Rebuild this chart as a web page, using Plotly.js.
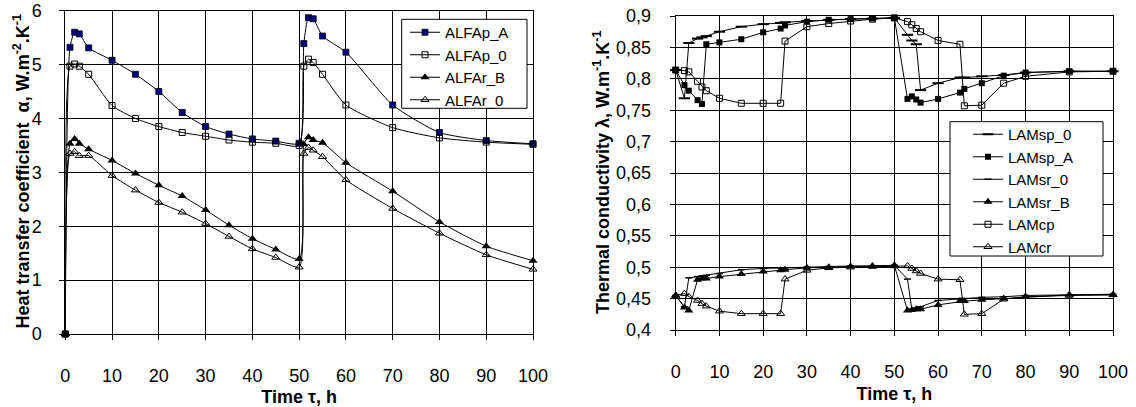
<!DOCTYPE html>
<html>
<head>
<meta charset="utf-8">
<script src="https://cdn.plot.ly/plotly-3.0.1.min.js"></script>
<style>html,body{margin:0;padding:0;background:#fff;}#chart{width:1136px;height:407px;}</style>
</head>
<body>
<div id="chart"></div>
<script>
// ---- Left chart: heat transfer coefficient ----
const tL = [0,1,2,3,5,10,15,20,25,30,35,40,45,50,51,52,53,55,60,70,80,90,100];
const ALFAp_A = [0,5.32,5.60,5.57,5.31,5.08,4.82,4.50,4.11,3.85,3.71,3.62,3.58,3.54,5.39,5.87,5.85,5.53,5.23,4.25,3.74,3.59,3.53];
const ALFAp_0 = [0,4.97,5.01,4.97,4.82,4.24,4.00,3.85,3.74,3.67,3.60,3.56,3.54,3.50,4.97,5.10,5.04,4.82,4.25,3.83,3.64,3.56,3.52];
const ALFAr_B = [0,3.53,3.62,3.53,3.43,3.22,2.98,2.76,2.56,2.30,2.02,1.77,1.57,1.39,3.52,3.65,3.60,3.55,3.18,2.65,2.08,1.63,1.36];
const ALFAr_0 = [0,3.35,3.38,3.31,3.31,2.94,2.67,2.44,2.26,2.05,1.81,1.58,1.42,1.24,3.35,3.46,3.41,3.29,2.86,2.33,1.87,1.47,1.20];

// ---- Right chart: thermal conductivity ----
const tR = [0,2,3,5,6,7,10,15,20,24,25,30,35,40,45,50,53,54,55,56,60,65,66,70,75,80,90,100];
const LAMsp_0 = [0.814,0.769,0.857,0.864,0.866,0.868,0.875,0.883,0.887,0.889,0.890,0.892,0.894,0.895,0.896,0.897,0.870,0.861,0.855,0.782,0.793,0.802,0.802,0.804,0.806,0.810,0.812,0.812];
const LAMsp_A = [0.814,0.790,0.781,0.766,0.760,0.855,0.858,0.863,0.874,0.880,0.885,0.891,0.894,0.895,0.896,0.897,0.768,0.772,0.767,0.762,0.768,0.778,0.784,0.793,0.805,0.810,0.812,0.812];
const LAMsr_0 = [0.455,0.437,0.483,0.485,0.486,0.487,0.490,0.496,0.498,0.499,0.499,0.500,0.501,0.502,0.502,0.503,0.481,0.433,0.435,0.437,0.447,0.450,0.450,0.452,0.453,0.455,0.456,0.457];
const LAMsr_B = [0.455,0.436,0.431,0.480,0.482,0.482,0.485,0.489,0.493,0.495,0.496,0.499,0.500,0.501,0.502,0.503,0.431,0.432,0.433,0.433,0.440,0.446,0.446,0.448,0.450,0.453,0.456,0.456];
const LAMcp = [0.814,0.813,0.811,0.796,0.787,0.781,0.769,0.761,0.761,0.761,0.860,0.883,0.888,0.892,0.895,0.897,0.891,0.886,0.880,0.875,0.861,0.855,0.757,0.758,0.793,0.804,0.811,0.812];
const LAMcr = [0.455,0.458,0.453,0.447,0.442,0.438,0.430,0.426,0.426,0.426,0.481,0.495,0.499,0.500,0.501,0.502,0.502,0.498,0.494,0.490,0.481,0.480,0.425,0.426,0.449,0.453,0.455,0.456];

const xTicks = [0,10,20,30,40,50,60,70,80,90,100];
const yTicksL = [0,1,2,3,4,5,6];
const yTicksR = [0.4,0.45,0.5,0.55,0.6,0.65,0.7,0.75,0.8,0.85,0.9];
const yTickTextR = ['0,4','0,45','0,5','0,55','0,6','0,65','0,7','0,75','0,8','0,85','0,9'];

const W = 1136, H = 407;
const px = v => v / W;
const py = v => (H - v) / H;

function left(name, y, marker) {
  return {x: tL, y: y, name: name, type: 'scatter', mode: 'lines+markers',
    xaxis: 'x', yaxis: 'y', legend: 'legend3', cliponaxis: false,
    line: {color: '#000', width: 1, shape: 'spline', smoothing: 0.6}, marker: marker};
}
function right(name, y, marker) {
  return {x: tR, y: y, name: name, type: 'scatter', mode: 'lines+markers',
    xaxis: 'x2', yaxis: 'y2', legend: 'legend2', cliponaxis: false,
    line: {color: '#000', width: 1}, marker: marker};
}

const traces = [
  left('ALFAp_A', ALFAp_A, {symbol: 'square', size: 6, color: '#000080', line: {color: '#000', width: 0.8}}),
  left('ALFAp_0', ALFAp_0, {symbol: 'square-open', size: 6, color: '#000', line: {width: 1}}),
  left('ALFAr_B', ALFAr_B, {symbol: 'triangle-up', size: 8, color: '#000', line: {width: 0}}),
  left('ALFAr_0', ALFAr_0, {symbol: 'triangle-up-open', size: 7, color: '#000', line: {width: 1}}),
  right('LAMsp_0', LAMsp_0, {symbol: 'line-ew', size: 8, color: '#000', line: {color: '#000', width: 2}}),
  right('LAMsp_A', LAMsp_A, {symbol: 'square', size: 6, color: '#000', line: {width: 0}}),
  right('LAMsr_0', LAMsr_0, {symbol: 'line-ew', size: 5, color: '#000', line: {color: '#000', width: 1.5}}),
  right('LAMsr_B', LAMsr_B, {symbol: 'triangle-up', size: 8, color: '#000', line: {width: 0}}),
  right('LAMcp', LAMcp, {symbol: 'square-open', size: 6, color: '#000', line: {width: 1}}),
  right('LAMcr', LAMcr, {symbol: 'triangle-up-open', size: 7, color: '#000', line: {width: 1}})
];

const axisBase = {
  showgrid: true, gridcolor: '#000', gridwidth: 1, zeroline: false,
  showline: true, mirror: true, linecolor: '#000', linewidth: 1,
  ticks: 'outside', ticklen: 5, tickcolor: '#000', tickwidth: 1,
  tickfont: {size: 18, color: '#000'}, automargin: false
};

const legendBase = {xanchor: 'left', yanchor: 'top', bgcolor: 'rgba(0,0,0,0)', borderwidth: 0,
  font: {size: 15}, tracegroupgap: 0, traceorder: 'normal'};

const layout = {
  width: W, height: H,
  margin: {l: 0, r: 0, t: 0, b: 0},
  paper_bgcolor: '#fff', plot_bgcolor: '#fff',
  font: {family: 'Liberation Sans, Arial, sans-serif', size: 16, color: '#000'},
  xaxis: Object.assign({}, axisBase, {domain: [px(65.3), px(533)], range: [0, 100], tickvals: xTicks, anchor: 'y',
    ticklabelstandoff: 20,
    title: {text: '<b>Time τ, h</b>', font: {size: 18}}}),
  yaxis: Object.assign({}, axisBase, {domain: [py(334), py(10.7)], range: [0, 6], tickvals: yTicksL, anchor: 'x',
    ticklabelstandoff: 14}),
  xaxis2: Object.assign({}, axisBase, {domain: [px(675.7), px(1113)], range: [0, 100], tickvals: xTicks, anchor: 'y2',
    ticklabelstandoff: 20,
    title: {text: '<b>Time τ, h</b>', font: {size: 18}}}),
  yaxis2: Object.assign({}, axisBase, {domain: [py(330), py(16)], range: [0.4, 0.9], tickvals: yTicksR, ticktext: yTickTextR, anchor: 'x2',
    ticklabelstandoff: 15}),
  legend3: Object.assign({}, legendBase, {x: px(405), y: py(16)}),
  legend2: Object.assign({}, legendBase, {x: px(968), y: py(118)}),
  annotations: [
    {text: '<b>Heat transfer coefficient  α, W.m<sup>-2</sup>.K<sup>-1</sup></b>', xref: 'paper', yref: 'paper',
      x: px(21.5), y: py(171), xanchor: 'center', yanchor: 'middle', textangle: -90, showarrow: false, font: {size: 18}},
    {text: '<b>Thermal conductivity λ, W.m<sup>-1</sup>.K<sup>-1</sup></b>', xref: 'paper', yref: 'paper',
      x: px(601), y: py(173), xanchor: 'center', yanchor: 'middle', textangle: -90, showarrow: false, font: {size: 18}}
  ],
  shapes: [
    {type: 'rect', xref: 'paper', yref: 'paper', x0: px(401.7), x1: px(527), y0: py(108.3), y1: py(19.3),
      line: {color: '#000', width: 1}, fillcolor: '#fff', layer: 'above'},
    {type: 'rect', xref: 'paper', yref: 'paper', x0: px(950), x1: px(1103), y0: py(256), y1: py(121.7),
      line: {color: '#000', width: 1}, fillcolor: '#fff', layer: 'above'}
  ],
  showlegend: true
};

Plotly.newPlot('chart', traces, layout, {displayModeBar: false, staticPlot: true});
</script>
</body>
</html>
